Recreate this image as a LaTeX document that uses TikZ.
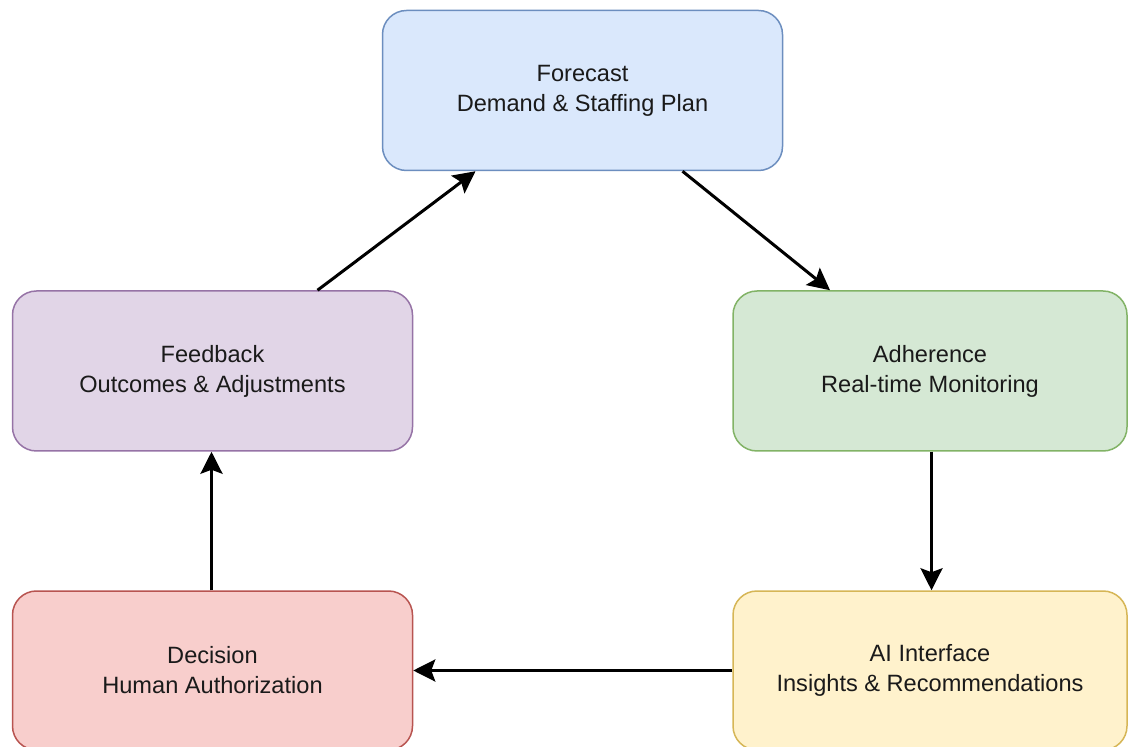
\documentclass[tikz,border=0pt]{standalone}
\usepackage{fontspec}
\setmainfont{Liberation Sans}
\usetikzlibrary{arrows.meta,calc}
\definecolor{fcfill}{HTML}{DAE8FC}\definecolor{fcdraw}{HTML}{6C8EBF}
\definecolor{fbfill}{HTML}{E1D5E7}\definecolor{fbdraw}{HTML}{9673A6}
\definecolor{adfill}{HTML}{D5E8D4}\definecolor{addraw}{HTML}{82B366}
\definecolor{defill}{HTML}{F8CECC}\definecolor{dedraw}{HTML}{B85450}
\definecolor{aifill}{HTML}{FFF2CC}\definecolor{aidraw}{HTML}{D6B656}
\definecolor{txt}{HTML}{1A1A1A}
\begin{document}
\begin{tikzpicture}[x=0.5pt,y=-0.5pt,
  box/.style={draw, line width=0.75pt, rounded corners=12pt, minimum width=200pt, minimum height=80pt,
    align=center, inner sep=0pt, text=txt,
    font=\fontsize{11.8pt}{15pt}\selectfont},
  flow/.style={line width=1.5pt, -{Stealth[length=11pt,width=11pt,inset=2pt]}}]
\clip (0,0) rectangle (1128,747);
\fill[white] (0,0) rectangle (1128,747);
\node[box, fill=fcfill, draw=fcdraw] (forecast) at (582.5,90.5) {Forecast\\Demand \& Staffing Plan};
\node[box, fill=fbfill, draw=fbdraw] (feedback) at (212.5,371) {Feedback\\Outcomes \& Adjustments};
\node[box, fill=adfill, draw=addraw, minimum width=197pt] (adherence) at (930,371) {Adherence\\Real-time Monitoring};
\node[box, fill=defill, draw=dedraw, minimum height=79.5pt] (decision) at (212.5,670.5) {Decision\\Human Authorization};
\node[box, fill=aifill, draw=aidraw, minimum width=197pt, minimum height=79.5pt] (ai) at (930,670.5) {AI Interface\\Insights \& Recommendations};
\draw[flow] ($(feedback.north)+(105,0)$) -- ($(forecast.south)+(-107,0)$);
\draw[flow] ($(forecast.south)+(100,0)$) -- ($(adherence.north)+(-100,0)$);
\draw[flow] ($(adherence.south)+(1.5,0)$) -- ($(ai.north)+(1.5,0)$);
\draw[flow] (ai.west) -- (decision.east);
\draw[flow] ($(decision.north)+(-1,0)$) -- ($(feedback.south)+(-1,0)$);
\end{tikzpicture}
\end{document}
